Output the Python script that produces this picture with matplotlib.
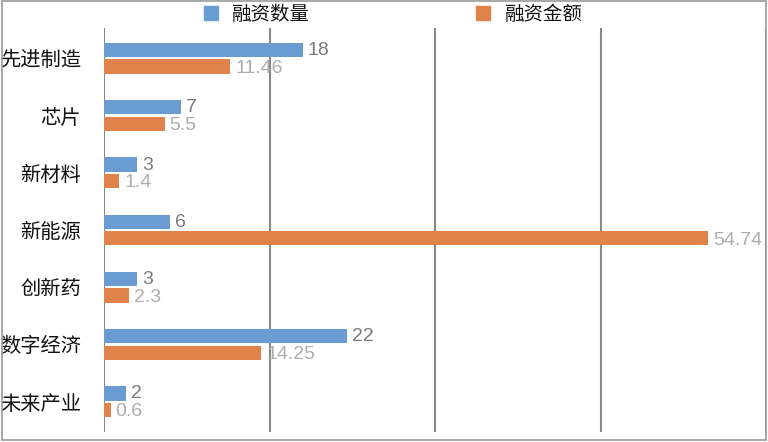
import matplotlib.pyplot as plt
import numpy as np
from matplotlib.lines import Line2D

categories = ['先进制造', '芯片', '新材料', '新能源', '创新药', '数字经济', '未来产业']
count_vals = [18, 7, 3, 6, 3, 22, 2]
amount_vals = [11.46, 5.5, 1.4, 54.74, 2.3, 14.25, 0.6]
count_labels = ['18', '7', '3', '6', '3', '22', '2']
amount_labels = ['11.46', '5.5', '1.4', '54.74', '2.3', '14.25', '0.6']
series_names = ['融资数量', '融资金额']

BLUE = '#6a9bd1'
ORANGE = '#e0834a'
CJK = ['Noto Sans CJK SC', 'DejaVu Sans']

plt.rcParams['font.family'] = CJK

fig = plt.figure(figsize=(7.68, 4.42), dpi=100)
ax = fig.add_axes([104 / 768, 1 - 432 / 442, (766 - 104) / 768, (432 - 28) / 442])

y = np.arange(len(categories))
h = 0.25
off = 0.145
ax.barh(y - off, count_vals, height=h, color=BLUE, zorder=3)
ax.barh(y + off, amount_vals, height=h, color=ORANGE, zorder=3)

# value labels to the right of each bar
for yi, v, s in zip(y, count_vals, count_labels):
    ax.text(v + 0.45, yi - off + 0.01, s, va='center', ha='left', fontsize=14,
            color='#7a7a7a', family='Liberation Sans', zorder=4)
for yi, v, s in zip(y, amount_vals, amount_labels):
    ax.text(v + 0.45, yi + off + 0.03, s, va='center', ha='left', fontsize=14,
            color='#adadad', family='Liberation Sans', zorder=4)

ax.set_xlim(0, 60)
ax.set_ylim(len(categories) - 0.47, -0.53)
ax.set_xticks([0, 15, 30, 45, 60])
ax.set_xticklabels([])
ax.set_yticks(y)
ax.set_yticklabels(categories, fontsize=14.6, color='#111111')
ax.tick_params(axis='both', length=0, pad=16.5)
ax.grid(axis='x', color='#888888', linewidth=1.5, zorder=0)
ax.set_axisbelow(True)
for sp in ax.spines.values():
    sp.set_visible(False)

handles = [Line2D([], [], marker='s', ls='', color=BLUE, markersize=10),
           Line2D([], [], marker='s', ls='', color=ORANGE, markersize=10)]
fig.legend(handles, series_names, loc='center', bbox_to_anchor=(393 / 768, 1 - 14 / 442),
           ncol=2, frameon=False, fontsize=14, handlelength=0.8, handletextpad=0.7,
           columnspacing=8.5, borderpad=0, labelcolor='#111111')

# outer frame
fig.add_artist(plt.Rectangle((0.002, 0.004), 0.996, 0.993, transform=fig.transFigure,
                             fill=False, edgecolor='#999999', linewidth=1.2))

fig.savefig('out.png', dpi=100)
